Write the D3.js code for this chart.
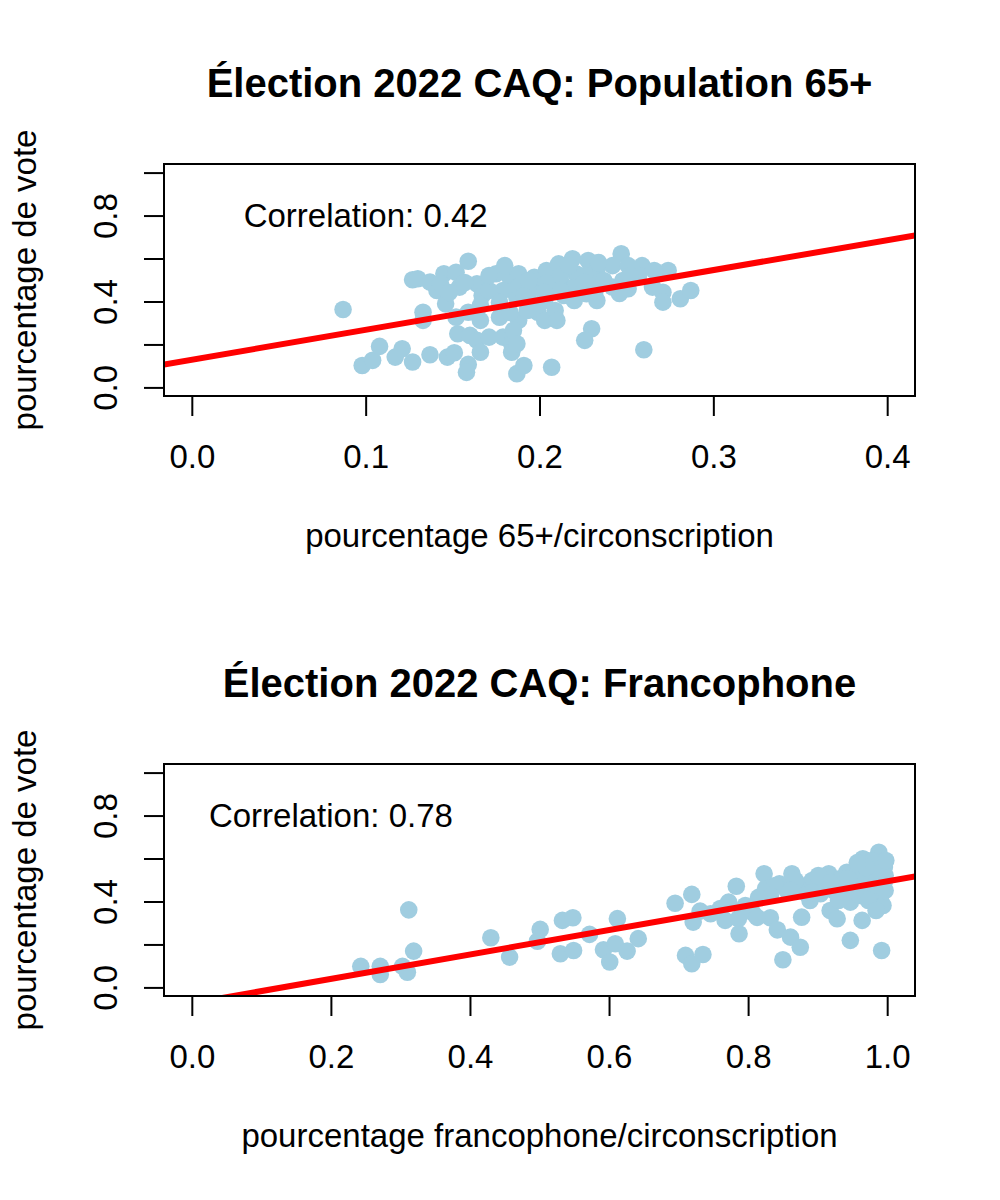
<!DOCTYPE html>
<html>
<head>
<meta charset="utf-8">
<script src="https://cdn.jsdelivr.net/npm/d3@7"></script>
<style>
  body { margin: 0; background: #fff; }
</style>
</head>
<body>
<svg id="chart" width="1000" height="1200"></svg>
<script>
const FONT = '"Liberation Sans", Arial, Helvetica, sans-serif';

const yTicks = [0, 0.2, 0.4, 0.6, 0.8, 1.0];
const yTickLabels = ['0.0', '', '0.4', '', '0.8', ''];

// panel 1: population 65+
const pop65Ticks = [0, 0.1, 0.2, 0.3, 0.4];
const pop65X = [0.087, 0.098, 0.104, 0.108, 0.117, 0.121, 0.127, 0.137, 0.147, 0.151,
  0.159, 0.158, 0.127, 0.130, 0.137, 0.145, 0.152, 0.159, 0.141, 0.146,
  0.154, 0.133, 0.133, 0.164, 0.167, 0.175, 0.183, 0.179, 0.187, 0.152,
  0.159, 0.166, 0.177, 0.153, 0.160, 0.164, 0.171, 0.166, 0.179, 0.184,
  0.184, 0.187, 0.188, 0.188, 0.197, 0.204, 0.211, 0.219, 0.228, 0.233,
  0.231, 0.221, 0.213, 0.206, 0.198, 0.227, 0.233, 0.247, 0.242, 0.251,
  0.259, 0.248, 0.251, 0.242, 0.274, 0.265, 0.271, 0.271, 0.281, 0.287,
  0.199, 0.203, 0.209, 0.210, 0.188, 0.185, 0.187, 0.230, 0.226, 0.260,
  0.191, 0.207, 0.171, 0.191, 0.194, 0.214, 0.220, 0.237, 0.171, 0.180,
  0.143, 0.148, 0.257, 0.194, 0.203, 0.212, 0.226, 0.234,
  0.220, 0.232, 0.177, 0.193, 0.157, 0.246, 0.252, 0.266, 0.204, 0.183,
  0.166, 0.217, 0.212, 0.226, 0.203];
const pop65Y = [0.363, 0.102, 0.126, 0.191, 0.141, 0.180, 0.118, 0.152, 0.141, 0.161,
  0.107, 0.070, 0.501, 0.506, 0.490, 0.529, 0.536, 0.587, 0.451, 0.389,
  0.467, 0.350, 0.312, 0.482, 0.428, 0.529, 0.513, 0.451, 0.420, 0.327,
  0.350, 0.312, 0.327, 0.250, 0.242, 0.219, 0.234, 0.164, 0.234, 0.203,
  0.164, 0.064, 0.529, 0.467, 0.513, 0.544, 0.575, 0.599, 0.591, 0.544,
  0.498, 0.529, 0.482, 0.482, 0.467, 0.436, 0.405, 0.622, 0.567, 0.567,
  0.567, 0.498, 0.459, 0.467, 0.544, 0.467, 0.443, 0.397, 0.413, 0.451,
  0.350, 0.312, 0.358, 0.312, 0.312, 0.265, 0.203, 0.273, 0.219, 0.175,
  0.102, 0.094, 0.451, 0.428, 0.498, 0.428, 0.465, 0.498, 0.521, 0.567,
  0.484, 0.442, 0.521, 0.405, 0.405, 0.521, 0.521, 0.581,
  0.405, 0.451, 0.395, 0.358, 0.488, 0.437, 0.521, 0.544, 0.484, 0.349,
  0.381, 0.567, 0.451, 0.488, 0.442];
const pop65Fit = [0.129, 1.39]; // intercept, slope

// panel 2: francophone
const francoTicks = [0, 0.2, 0.4, 0.6, 0.8, 1.0];
const francoX = [0.243, 0.271, 0.271, 0.303, 0.310, 0.319, 0.312, 0.430, 0.457, 0.501,
  0.497, 0.533, 0.548, 0.530, 0.549, 0.572, 0.592, 0.601, 0.609, 0.626,
  0.612, 0.642, 0.695, 0.719, 0.731, 0.721, 0.746, 0.710, 0.719, 0.735,
  0.772, 0.783, 0.767, 0.786, 0.787, 0.806, 0.823, 0.825, 0.832, 0.842,
  0.861, 0.875, 0.850, 0.845, 0.863, 0.856, 0.875, 0.892, 0.889, 0.904,
  0.877, 0.916, 0.918, 0.928, 0.923, 0.942, 0.947, 0.935, 0.964, 0.947,
  0.961, 0.971, 0.988, 0.996, 0.980, 0.971, 0.990, 0.995, 0.992, 0.965,
  0.894, 0.996, 0.961, 0.978, 0.952, 0.937, 0.976, 0.990, 0.997, 0.983,
  0.954, 0.933, 0.907, 0.882, 0.868, 0.839, 0.832, 0.994, 0.968, 0.950,
  0.997, 0.961, 0.980, 0.901, 0.918, 0.815, 0.796, 0.993, 0.973, 0.944,
  0.986, 0.998, 0.930, 0.892, 0.984, 0.760, 0.813, 0.861, 0.970, 0.957];
const francoY = [0.098, 0.098, 0.060, 0.098, 0.071, 0.169, 0.361, 0.231, 0.141, 0.270,
  0.215, 0.312, 0.324, 0.157, 0.172, 0.247, 0.175, 0.118, 0.203, 0.169,
  0.320, 0.227, 0.392, 0.433, 0.355, 0.304, 0.343, 0.149, 0.110, 0.153,
  0.397, 0.471, 0.312, 0.320, 0.250, 0.350, 0.529, 0.459, 0.324, 0.268,
  0.234, 0.187, 0.129, 0.482, 0.529, 0.451, 0.474, 0.498, 0.405, 0.436,
  0.327, 0.529, 0.358, 0.320, 0.451, 0.536, 0.397, 0.467, 0.312, 0.219,
  0.575, 0.591, 0.629, 0.560, 0.529, 0.451, 0.413, 0.482, 0.172, 0.599,
  0.498, 0.498, 0.513, 0.467, 0.482, 0.436, 0.544, 0.581, 0.521, 0.437,
  0.544, 0.507, 0.474, 0.442, 0.498, 0.474, 0.428, 0.381, 0.498, 0.451,
  0.451, 0.428, 0.591, 0.521, 0.488, 0.419, 0.381, 0.544, 0.405, 0.507,
  0.498, 0.591, 0.405, 0.442, 0.358, 0.367, 0.326, 0.451, 0.558, 0.581];
const francoFit = [-0.074, 0.568];

const panels = [
  { top: 0, title: 'Élection 2022 CAQ: Population 65+', xlab: 'pourcentage 65+/circonscription',
    ticks: pop65Ticks, xs: pop65X, ys: pop65Y, fit: pop65Fit,
    corr: 'Correlation: 0.42', corrAt: [0.1, 0.8] },
  { top: 600, title: 'Élection 2022 CAQ: Francophone', xlab: 'pourcentage francophone/circonscription',
    ticks: francoTicks, xs: francoX, ys: francoY, fit: francoFit,
    corr: 'Correlation: 0.78', corrAt: [0.2, 0.8] }
];

function draw_panel(svg, p, i) {
  const left = 164, right = 915, top = 164, bottom = 396;

  const xlim = d3.extent(p.ticks);
  const pad = (xlim[1] - xlim[0]) * 0.04;
  const x = d3.scaleLinear().domain([xlim[0] - pad, xlim[1] + pad]).range([left, right]);
  const y = d3.scaleLinear().domain([-0.04, 1.04]).range([bottom, top]);

  const g = svg.append('g').attr('transform', `translate(0,${p.top})`);

  g.append('clipPath').attr('id', `clip-${i}`)
    .append('rect')
    .attr('x', left).attr('y', top)
    .attr('width', right - left).attr('height', bottom - top);

  const plot = g.append('g').attr('clip-path', `url(#clip-${i})`);

  plot.selectAll('circle')
    .data(d3.zip(p.xs, p.ys))
    .enter().append('circle')
    .attr('cx', d => x(d[0]))
    .attr('cy', d => y(d[1]))
    .attr('r', 8.8)
    .attr('fill', '#a0cde0');

  const [x0, x1] = x.domain();
  plot.append('line')
    .attr('x1', x(x0)).attr('y1', y(p.fit[0] + p.fit[1] * x0))
    .attr('x2', x(x1)).attr('y2', y(p.fit[0] + p.fit[1] * x1))
    .attr('stroke', '#ff0000')
    .attr('stroke-width', 6);

  g.append('rect')
    .attr('x', left).attr('y', top)
    .attr('width', right - left).attr('height', bottom - top)
    .attr('fill', 'none')
    .attr('stroke', '#000')
    .attr('stroke-width', 2);

  g.append('g')
    .attr('transform', `translate(0,${bottom})`)
    .call(d3.axisBottom(x).tickValues(p.ticks).tickSize(20).tickSizeOuter(0).tickFormat(d3.format('.1f')))
    .attr('font-size', 33)
    .attr('font-family', FONT)
    .call(a => a.select('.domain').remove())
    .call(a => a.selectAll('line').attr('stroke-width', 2))
    .call(a => a.selectAll('text').attr('y', 72).attr('dy', 0));

  g.append('g')
    .attr('transform', `translate(${left},0)`)
    .call(d3.axisLeft(y).tickValues(yTicks).tickSize(20).tickSizeOuter(0).tickFormat((d, k) => yTickLabels[k]))
    .attr('font-size', 33)
    .attr('font-family', FONT)
    .call(a => a.select('.domain').remove())
    .call(a => a.selectAll('line').attr('stroke-width', 2))
    .call(a => a.selectAll('text')
      .attr('x', 0).attr('y', -47).attr('dy', 0)
      .attr('text-anchor', 'middle')
      .attr('transform', 'rotate(-90)'));

  g.append('text')
    .attr('x', x(p.corrAt[0])).attr('y', y(p.corrAt[1]))
    .attr('dy', '0.35em')
    .attr('text-anchor', 'middle')
    .attr('font-family', FONT).attr('font-size', 33)
    .text(p.corr);

  g.append('text')
    .attr('x', (left + right) / 2).attr('y', 97)
    .attr('text-anchor', 'middle')
    .attr('font-family', FONT).attr('font-size', 40).attr('font-weight', 'bold')
    .text(p.title);

  g.append('text')
    .attr('x', (left + right) / 2).attr('y', 547)
    .attr('text-anchor', 'middle')
    .attr('font-family', FONT).attr('font-size', 33)
    .text(p.xlab);

  g.append('text')
    .attr('transform', `translate(36,${(top + bottom) / 2}) rotate(-90)`)
    .attr('text-anchor', 'middle')
    .attr('font-family', FONT).attr('font-size', 33)
    .text('pourcentage de vote');
}

const svg = d3.select('#chart');
panels.forEach((p, i) => draw_panel(svg, p, i));
</script>
</body>
</html>
